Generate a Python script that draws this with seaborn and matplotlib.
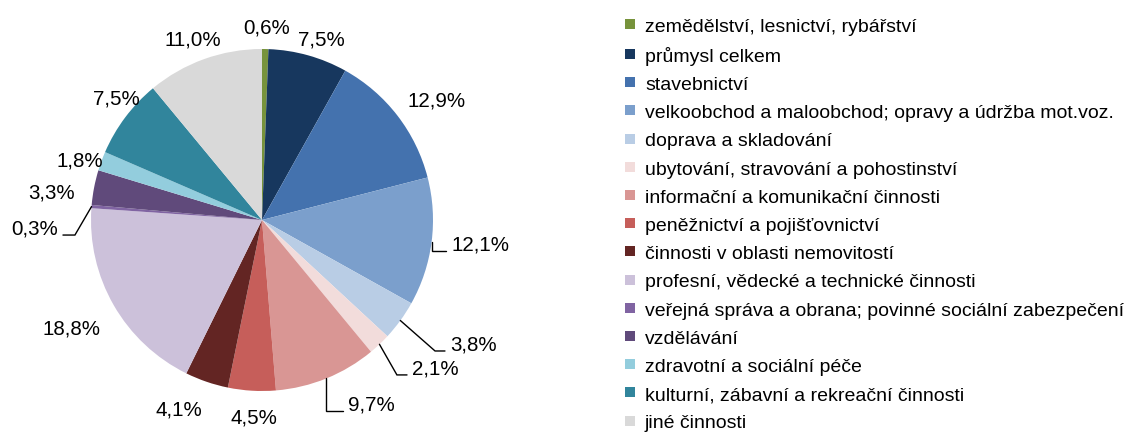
import numpy as np
import pandas as pd
import matplotlib
matplotlib.use("Agg")
import matplotlib.pyplot as plt
import seaborn as sns
from matplotlib.lines import Line2D

# ---- data ----
categories = [
    "zemědělství, lesnictví, rybářství",
    "průmysl celkem",
    "stavebnictví",
    "velkoobchod a maloobchod; opravy a údržba mot.voz.",
    "doprava a skladování",
    "ubytování, stravování a pohostinství",
    "informační a komunikační činnosti",
    "peněžnictví a pojišťovnictví",
    "činnosti v oblasti nemovitostí",
    "profesní, vědecké a technické činnosti",
    "veřejná správa a obrana; povinné sociální zabezpečení",
    "vzdělávání",
    "zdravotní a sociální péče",
    "kulturní, zábavní a rekreační činnosti",
    "jiné činnosti",
]
shares = [0.6, 7.5, 12.9, 12.1, 3.8, 2.1, 9.7, 4.5, 4.1, 18.8, 0.3, 3.3, 1.8, 7.5, 11.0]
colors = ["#77933C", "#17375E", "#4472AE", "#7B9FCC", "#B9CDE5", "#F2DCDB",
          "#D99694", "#C65E5A", "#632523", "#CCC1DA", "#8064A2", "#604A7B",
          "#93CDDD", "#31859C", "#D9D9D9"]

# ---- layout (label placement only) ----
label_r = {0: 1.13, 1: 1.115, 2: 1.24, 7: 1.153, 8: 1.207, 9: 1.28,
           11: 1.24, 12: 1.12, 13: 1.11, 14: 1.135}
label_dang = {0: 0.4, 1: 2.6, 2: 3.2, 7: -1.1, 8: 4.8, 9: 0.2,
              11: -3.4, 12: -1.8, 13: 3.0, 14: -1.1}
# leader: (elbow_x or None, elbow_y, end_x)
leaders = {3: (None, -0.181, 1.076),
           4: (1.012, -0.766, 1.070),
           5: (0.789, -0.906, 0.848),
           6: (None, -1.117, 0.474),
           10: (-1.094, -0.088, -1.164)}

sns.set_theme(style="white")
plt.rcParams['font.family'] = ['Liberation Sans', 'DejaVu Sans']
plt.rcParams['text.color'] = 'black'

palette = sns.color_palette(colors)

fig = plt.figure(figsize=(11.35, 4.35), dpi=100)
fig.patch.set_facecolor("white")
ax = fig.add_axes([91 / 1135, (435 - 221 - 171) / 435, 342 / 1135, 342 / 435])
wedges, _ = ax.pie(shares, colors=palette, startangle=90, counterclock=False,
                   radius=1.0, wedgeprops=dict(linewidth=0))
ax.set_xlim(-1, 1)
ax.set_ylim(-1, 1)
ax.set_aspect('equal')
ax.axis('off')

def fmt(v):
    return f"{v:.1f}".replace('.', ',') + '%'

LABEL_FS = 14.8
for i, (w, v) in enumerate(zip(wedges, shares)):
    mid = np.deg2rad((w.theta1 + w.theta2) / 2.0)
    if i in leaders:
        ex, ey, endx = leaders[i]
        sx, sy = np.cos(mid), np.sin(mid)
        if ex is None:
            ex = sx
        ax.plot([sx, ex, endx], [sy, ey, ey], color="black", lw=1.0,
                clip_on=False, solid_joinstyle='miter')
        if endx > ex:
            ax.text(endx + 0.03, ey + 0.04, fmt(v), ha="left", va="center",
                    fontsize=LABEL_FS, color="black", clip_on=False)
        else:
            ax.text(endx - 0.03, ey + 0.04, fmt(v), ha="right", va="center",
                    fontsize=LABEL_FS, color="black", clip_on=False)
    else:
        ang = mid - np.deg2rad(label_dang.get(i, 0.0))
        r = label_r.get(i, 1.2)
        ax.text(r * np.cos(ang), r * np.sin(ang), fmt(v), ha="center",
                va="center", fontsize=LABEL_FS, color="black", clip_on=False)

handles = [Line2D([], [], marker='s', linestyle='', markersize=6.5,
                  markerfacecolor=c, markeredgewidth=0) for c in palette]
fig.legend(handles, categories, loc="upper left",
           bbox_to_anchor=(623.6 / 1135, 1 - 18.5 / 435),
           frameon=False, fontsize=14, handlelength=0.7, handletextpad=0.4,
           labelspacing=0.545, borderpad=0, borderaxespad=0, labelcolor="black")

fig.savefig("out.png", dpi=100, facecolor="white")
